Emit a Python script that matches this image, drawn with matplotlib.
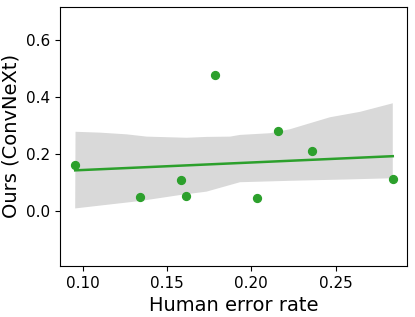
import numpy as np
import matplotlib
matplotlib.use("Agg")
import matplotlib.pyplot as plt

# Points
human_err = [0.0956, 0.1341, 0.1583, 0.1611, 0.1782, 0.2036, 0.2161, 0.2363, 0.2839]
ours = [0.161, 0.049, 0.109, 0.052, 0.477, 0.046, 0.280, 0.212, 0.111]

# Bande de confiance (bords)
band_up_x = [0.0958, 0.1103, 0.1261, 0.1380, 0.1617, 0.1735, 0.1874, 0.1933,
             0.2111, 0.2230, 0.2348, 0.2467, 0.2645, 0.2839]
band_up_y = [0.278, 0.275, 0.269, 0.261, 0.257, 0.260, 0.261, 0.267,
             0.273, 0.287, 0.308, 0.329, 0.348, 0.378]
band_lo_x = [0.0956, 0.1103, 0.1340, 0.1577, 0.1735, 0.1933, 0.2230, 0.2586, 0.2839]
band_lo_y = [0.009, 0.019, 0.035, 0.056, 0.068, 0.101, 0.106, 0.111, 0.115]

green = "#2ca02c"

fig = plt.figure(figsize=(4.15, 3.17), dpi=100)
ax = fig.add_axes([0.1438, 0.1609, 0.8376, 0.818])

# Bande grise
poly_x = band_up_x + band_lo_x[::-1]
poly_y = band_up_y + band_lo_y[::-1]
ax.fill(poly_x, poly_y, color="#d9d9d9", lw=0, zorder=1)

# Régression linéaire
slope, intercept = np.polyfit(human_err, ours, 1)
xs = np.array([min(human_err), max(human_err)])
ax.plot(xs, slope * xs + intercept, color=green, lw=1.8, zorder=2)

ax.scatter(human_err, ours, color=green, s=32, zorder=3)

ax.set_xlim(0.0864, 0.2925)
ax.set_ylim(-0.193, 0.717)
ax.set_xticks([0.10, 0.15, 0.20, 0.25])
ax.set_yticks([0.0, 0.2, 0.4, 0.6])
ax.tick_params(labelsize=11)
ax.set_xlabel("Human error rate", fontsize=14)
ax.set_ylabel("Ours (ConvNeXt)", fontsize=14)

fig.savefig("out.png", dpi=100)
